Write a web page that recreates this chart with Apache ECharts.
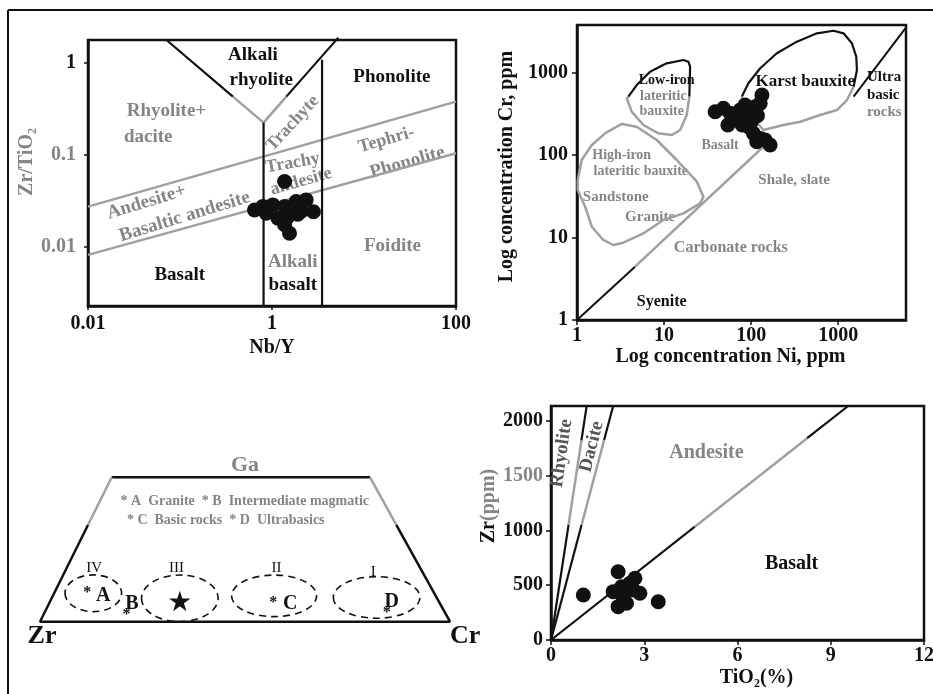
<!DOCTYPE html>
<html><head><meta charset="utf-8">
<script src="https://cdn.jsdelivr.net/npm/echarts@6/dist/echarts.min.js"></script>
<style>html,body{margin:0;padding:0;background:#fff}#c{width:933px;height:694px}</style>
</head><body><div id="c"></div>
<script>
// ===== Panel A: Zr/TiO2 vs Nb/Y =====
const pA_xRange = [0.01, 100];
const pA_yRange = [0.00225, 1.79];
const pA_xTicks = [0.01, 1, 100];
const pA_yTicks = [0.01, 0.1, 1];
const pA_points = [[0.645,0.0251],[0.794,0.0273],[1.02,0.0285],[1.37,0.0273],[1.83,0.031],[2.35,0.0323],[2.82,0.024],[1.61,0.0241],[1.16,0.0204],[1.37,0.0173],[1.55,0.014],[0.865,0.0231],[2.07,0.0241],[1.45,0.0205],[1.9,0.0225],[1.37,0.0512]];
const pA_vLeftBlack = [[0.0713,1.79],[0.376,0.432]];
const pA_vLeftGray = [[0.376,0.432],[0.81,0.225]];
const pA_vRightBlack = [[5.26,1.9],[1.43,0.432]];
const pA_vRightGray = [[1.43,0.432],[0.81,0.225]];
const pA_vert1 = [[0.81,0.225],[0.81,0.00225]];
const pA_vert2 = [[3.5,1.09],[3.5,0.00225]];
const pA_diagUp = [[0.01,0.0273],[100,0.381]];
const pA_diagLow = [[0.01,0.00813],[100,0.1044]];

// ===== Panel B: Cr vs Ni =====
const pB_xRange = [1, 6000];
const pB_yRange = [1, 3765];
const pB_ticks = [1, 10, 100, 1000];
const pB_points = [[133,533],[38.6,335],[48,368],[57.4,320],[74.8,351],[68.5,266],[93,291],[111,385],[127,423],[85,404],[93,220],[106,183],[127,159],[145,152],[116,145],[165,132],[54,231],[79,231],[100,250],[118,300]];
const pB_karstBlack = [[78,509],[93,740],[127,1125],[197,1710],[335,2365],[569,2985],[883,3210],[1150,2985],[1436,2260],[1610,1555],[1640,1072],[1500,673]];
const pB_karstGray = [[1500,673],[1259,464],[966,351],[621,305],[366,253],[235,231],[138,201],[100,300],[78,509]];
const pB_lowIronBlack = [[3.89,509],[4.85,705],[6.9,1023],[10.7,1292],[16.7,1419],[19.0,1352],[19.9,1175],[19.5,509]];
const pB_lowIronGray = [[19.5,509],[18.2,305],[15.3,201],[12.3,175],[8.6,183],[5.78,231],[4.25,335],[3.73,487],[3.89,509]];
const pB_highIron = [[1.02,49.8],[1.13,87],[1.48,132],[2.1,183],[3.26,238],[4.85,220],[8.24,152],[14.0,87],[23.8,47.5],[28.3,31.2],[25.9,25.9],[16.7,19.6],[9.8,16.3],[5.78,11.2],[3.41,8.65],[2.61,8.11],[2.0,9.33],[1.48,13.5],[1.24,23.6],[1.02,37.7],[1.02,49.8]];
const pB_diagBlack1 = [[1,1],[4.64,4.43]];
const pB_diagGray = [[4.64,4.43],[138,126]];
const pB_diagBlack2 = [[1500,509],[5900,3435]];

// ===== Panel C: Zr-Cr-Ga trapezoid (normalized 0-100) =====
const pC_top = [[17.5,100],[80.5,100]];
const pC_leftGray = [[17.5,100],[11.7,67]];
const pC_rightGray = [[80.5,100],[86.9,67]];
const pC_base = [[11.7,67],[0,0],[100,0],[86.9,67]];
const pC_ellipses = [[13.0,19.7,6.9,12.7],[34.1,16.2,9.34,16.1],[57.1,17.9,10.37,14.4],[82.1,16.8,10.56,14.4]];

// ===== Panel D: Zr vs TiO2 =====
const pD_xRange = [0, 12];
const pD_yRange = [0, 2134];
const pD_xTicks = [0, 3, 6, 9, 12];
const pD_yTicks = [0, 500, 1000, 1500, 2000];
const pD_points = [[1.04,410],[3.45,349],[2.16,623],[2.70,563],[2.27,486],[2.86,426],[2.16,304],[2.43,335],[2.0,441],[2.54,517],[2.32,395],[2.65,456]];
const pD_rhyBlack1 = [[0,0],[0.565,1050]];
const pD_rhyGray = [[0.565,1050],[0.979,1820]];
const pD_rhyBlack2 = [[0.979,1820],[1.148,2134]];
const pD_dacBlack1 = [[0,0],[0.983,1049]];
const pD_dacGray = [[0.983,1049],[1.709,1824]];
const pD_dacBlack2 = [[1.709,1824],[2.0,2134]];
const pD_andBlack1 = [[0,0],[4.628,1033]];
const pD_andGray = [[4.628,1033],[8.24,1840]];
const pD_andBlack2 = [[8.24,1840],[9.56,2134]];

// ===== Text annotations: [grid, x, y, text, style, rotationDeg, align] =====
const labels = [
  [0,0.62,1.23,'Alkali','bk19'],[0,0.764,0.658,'rhyolite','bk19'],[0,20.1,0.714,'Phonolite','bk19'],
  [0,0.0713,0.297,'Rhyolite+','gr19'],[0,0.0451,0.158,'dacite','gr19'],
  [0,1.68,0.222,'Trachyte','gr18',47],[0,1.68,0.0813,'Trachy','gr18',10],[0,2.07,0.0512,'andesite','gr18',16],
  [0,17.5,0.146,'Tephri-','gr18',16],[0,29.6,0.0824,'Phonolite','gr19',16],
  [0,0.0433,0.0305,'Andesite+','gr19',17],[0,0.1125,0.0212,'Basaltic andesite','gr19',17],
  [0,20.4,0.01,'Foidite','gr19'],[0,0.0993,0.00491,'Basalt','bk19'],[0,1.68,0.00686,'Alkali','gr19'],[0,1.68,0.00382,'basalt','bk19'],
  [1,10.7,811,'Low-iron','bk14'],[1,9.8,509,'lateritic','gr14'],[1,9.4,335,'bauxite','gr14'],
  [1,418,773,'Karst bauxite','bk17'],[1,2138,875,'Ultra','bk15',0,'left'],[1,2138,533,'basic','bk15',0,'left'],[1,2138,335,'rocks','gr15',0,'left'],
  [1,44,132,'Basalt','gr14'],[1,3.26,100,'High-iron','gr14'],[1,5.4,62.8,'lateritic bauxite','gr14'],
  [1,2.79,31.2,'Sandstone','gr15'],[1,6.9,17.9,'Granite','gr15'],[1,312,49.8,'Shale, slate','gr15'],
  [1,58.4,7.4,'Carbonate rocks','gr16'],[1,9.4,1.67,'Syenite','bk16'],
  [2,50,108.5,'Ga','gr22'],[2,49.95,83.1,'* A  Granite  * B  Intermediate magmatic','gr14'],[2,45.3,70,'* C  Basic rocks  * D  Ultrabasics','gr14'],
  [2,13.2,37,'IV','rn15'],[2,33.3,37.2,'III','rn15'],[2,57.7,37.2,'II','rn15'],[2,81.3,34.6,'I','rn15'],
  [2,11.5,19.9,'*','bk16'],[2,15.4,17.8,'A','bk20'],[2,22.4,12.7,'B','bk20'],[2,21.1,4.6,'*','bk16'],
  [2,34.1,12.7,'★','star'],[2,56.9,13,'*','bk16'],[2,61,12.3,'C','bk20'],[2,85.8,13.9,'D','bk20'],[2,84.6,6.2,'*','bk16'],
  [2,0.5,-9.9,'Zr','bk26'],[2,103.7,-9.9,'Cr','bk26'],
  [3,0.344,1703,'Rhyolite','dk19',82],[3,1.31,1763,'Dacite','dk19',76],[3,5.0,1703,'Andesite','gr20'],[3,7.74,693,'Basalt','bk20']
];

const FONT = '"Liberation Serif","Times New Roman",serif';
const BLACK = '#111', GRAY = '#858585', GLINE = '#a0a0a0';
const TSTYLE = {
  bk14:['bold',14,BLACK], bk15:['bold',15,BLACK], bk16:['bold',16,BLACK], bk17:['bold',17,BLACK], bk19:['bold',19,BLACK], bk20:['bold',20,BLACK], bk26:['bold',26,BLACK],
  gr14:['bold',14,GRAY], gr15:['bold',15,GRAY], gr16:['bold',16,GRAY], gr18:['bold',18,GRAY], gr19:['bold',19,GRAY], gr20:['bold',20,GRAY], gr22:['bold',22,GRAY],
  dk19:['bold',19,'#555'], rn15:['normal',15,BLACK], star:['normal',28,BLACK]
};

function ln(g, data, color, width) {
  return {type:'line', xAxisIndex:g, yAxisIndex:g, data:data, symbol:'none', showSymbol:false, silent:true, clip:false, animation:false, lineStyle:{color:color, width:width}, z:3};
}
function sc(g, data, size) {
  return {type:'scatter', xAxisIndex:g, yAxisIndex:g, data:data, symbol:'circle', symbolSize:size, silent:true, animation:false, itemStyle:{color:BLACK, opacity:1}, z:4};
}
const lblBase = {color:BLACK, fontFamily:FONT, fontWeight:'bold', fontSize:20};
const nameBase = {color:BLACK, fontFamily:FONT, fontWeight:'bold', fontSize:20};
function fmt(v){ return String(+(+v).toPrecision(6)); }
function axis(g, type, range, ticks, extra) {
  const a = {
    gridIndex:g, type:type, min:range[0], max:range[1],
    axisLine:{show:true, onZero:false, lineStyle:{color:BLACK, width:2.5}},
    axisTick:{show:true, length:5, customValues:ticks, lineStyle:{color:BLACK, width:1.5}},
    axisLabel:Object.assign({customValues:ticks, formatter:fmt}, lblBase),
    splitLine:{show:false}, minorTick:{show:false}, minorSplitLine:{show:false}
  };
  if (type === 'log') a.logBase = 10;
  return Object.assign(a, extra || {});
}

const chart = echarts.init(document.getElementById('c'), null, {renderer:'canvas'});
const gridBorder = {show:true, borderColor:BLACK, borderWidth:2.5, backgroundColor:'transparent', outerBoundsMode:'none', containLabel:false};

const option = {
  animation:false,
  backgroundColor:'#fff',
  grid:[
    Object.assign({left:88, top:40, width:368, height:266}, gridBorder),
    Object.assign({left:577, top:25, width:329, height:295}, gridBorder),
    {left:40, top:477.3, width:410, height:144.4, show:false, outerBoundsMode:'none', containLabel:false},
    Object.assign({left:551, top:406, width:373, height:234}, gridBorder)
  ],
  xAxis:[
    axis(0,'log',pA_xRange,pA_xTicks,{name:'Nb/Y', nameLocation:'middle', nameGap:32, nameTextStyle:nameBase}),
    axis(1,'log',pB_xRange,pB_ticks,{name:'Log concentration Ni, ppm', nameLocation:'middle', nameGap:22, nameTextStyle:Object.assign({padding:[0,22,0,0]}, nameBase)}),
    {gridIndex:2, type:'value', min:0, max:100, show:false},
    axis(3,'value',pD_xRange,pD_xTicks,{interval:3, name:'TiO₂(%)', nameLocation:'middle', nameGap:28, nameTextStyle:Object.assign({padding:[0,0,0,38]}, nameBase)})
  ],
  yAxis:[
    axis(0,'log',pA_yRange,pA_yTicks,{name:'Zr/TiO₂', nameLocation:'middle', nameGap:50, nameTextStyle:Object.assign({}, nameBase, {color:GRAY, padding:[0,0,0,22]})}),
    axis(1,'log',pB_yRange,pB_ticks,{name:'Log concentration Cr, ppm', nameLocation:'middle', nameGap:60, nameTextStyle:Object.assign({padding:[0,0,0,12]}, nameBase)}),
    {gridIndex:2, type:'value', min:0, max:100, show:false},
    axis(3,'value',pD_yRange,pD_yTicks,{interval:500, name:'Zr{g|(ppm)}', nameLocation:'middle', nameGap:51, nameTextStyle:Object.assign({padding:[0,0,0,34], rich:{g:{color:GRAY, fontFamily:FONT, fontWeight:'bold', fontSize:20}}}, nameBase)})
  ],
  series:[
    ln(0,pA_diagUp,GLINE,2.5), ln(0,pA_diagLow,GLINE,2.5),
    ln(0,pA_vLeftBlack,BLACK,2.2), ln(0,pA_vLeftGray,GLINE,2.5),
    ln(0,pA_vRightBlack,BLACK,2.2), ln(0,pA_vRightGray,GLINE,2.5),
    ln(0,pA_vert1,BLACK,2.2), ln(0,pA_vert2,BLACK,2.2),
    sc(0,pA_points,15),
    ln(1,pB_highIron,GLINE,2.5), ln(1,pB_lowIronBlack,BLACK,2.2), ln(1,pB_lowIronGray,GLINE,2.5),
    ln(1,pB_karstBlack,BLACK,2.2), ln(1,pB_karstGray,GLINE,2.5),
    ln(1,pB_diagBlack1,BLACK,2), ln(1,pB_diagGray,GLINE,2.5), ln(1,pB_diagBlack2,BLACK,2),
    sc(1,pB_points,15),
    ln(2,pC_top,BLACK,2.5), ln(2,pC_leftGray,GLINE,2.5), ln(2,pC_rightGray,GLINE,2.5), ln(2,pC_base,BLACK,2.5),
    {type:'custom', xAxisIndex:2, yAxisIndex:2, data:pC_ellipses, encode:{x:0, y:1}, silent:true, animation:false, clip:false, z:3,
      renderItem:function(params, api){
        const c = api.coord([api.value(0), api.value(1)]);
        const s = api.size([api.value(2), api.value(3)]);
        const rx = s[0], ry = s[1];
        const d = 'M'+(c[0]-rx)+' '+c[1]+' A'+rx+' '+ry+' 0 1 0 '+(c[0]+rx)+' '+c[1]+' A'+rx+' '+ry+' 0 1 0 '+(c[0]-rx)+' '+c[1]+' Z';
        return {type:'path', shape:{pathData:d}, style:{fill:'none', stroke:BLACK, lineWidth:1.6, lineDash:[7,5]}};
      }},
    ln(3,pD_rhyBlack1,BLACK,2.2), ln(3,pD_rhyGray,GLINE,2.5), ln(3,pD_rhyBlack2,BLACK,2.2),
    ln(3,pD_dacBlack1,BLACK,2.2), ln(3,pD_dacGray,GLINE,2.5), ln(3,pD_dacBlack2,BLACK,2.2),
    ln(3,pD_andBlack1,BLACK,2.2), ln(3,pD_andGray,GLINE,2.5), ln(3,pD_andBlack2,BLACK,2.2),
    sc(3,pD_points,15)
  ]
};
// gray tick labels
option.yAxis[0].axisLabel.formatter = function(v){ const s = fmt(v); return s === '1' ? s : '{g|'+s+'}'; };
option.yAxis[0].axisLabel.rich = {g:{color:GRAY, fontFamily:FONT, fontWeight:'bold', fontSize:20}};
option.yAxis[0].axisLabel.margin = 12;
option.yAxis[0].axisTick.length = 4;
option.xAxis[0].axisLabel.margin = 8;
option.xAxis[0].axisTick.length = 4;
option.yAxis[1].axisLabel.margin = 9;
option.xAxis[1].axisLabel.margin = 6;
option.yAxis[3].axisLabel.formatter = function(v){ const s = fmt(v); return s === '1500' ? '{g|'+s+'}' : s; };
option.yAxis[3].axisLabel.rich = {g:{color:GRAY, fontFamily:FONT, fontWeight:'bold', fontSize:20}};
option.yAxis[3].axisLabel.margin = 8;
option.xAxis[3].axisLabel.margin = 6;

chart.setOption(option);

const els = [
  {type:'line', shape:{x1:8, y1:10, x2:933, y2:10}, style:{stroke:BLACK, lineWidth:2}, silent:true},
  {type:'line', shape:{x1:8, y1:10, x2:8, y2:694}, style:{stroke:BLACK, lineWidth:2}, silent:true}
];
labels.forEach(function(L){
  const p = chart.convertToPixel({gridIndex:L[0]}, [L[1], L[2]]);
  const st = TSTYLE[L[4]];
  const fam = L[4] === 'star' ? '"DejaVu Sans",sans-serif' : FONT;
  const al = L[6] || 'center';
  els.push({type:'text', x:p[0], y:p[1], rotation:(L[5]||0)*Math.PI/180, silent:true, z:1,
    style:{text:L[3], fill:st[2], font:st[0]+' '+st[1]+'px '+fam, align:al, verticalAlign:'middle', textAlign:al, textVerticalAlign:'middle'}});
});
chart.setOption({graphic:{elements:els}});
</script>
</body></html>
